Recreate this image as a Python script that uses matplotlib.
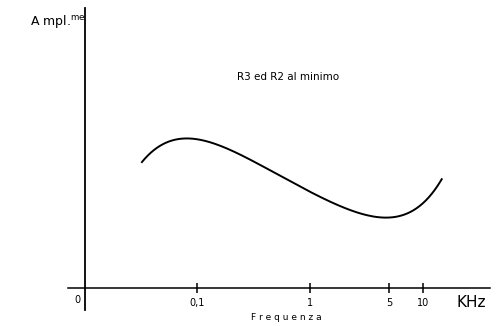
import matplotlib.pyplot as plt
import numpy as np

# frequency (kHz) and relative amplitude
freq = [0.0326, 0.0408, 0.0577, 0.0922, 0.139, 0.226, 0.361, 0.626,
        1.22, 2.40, 4.43, 6.65, 9.41, 14.7]
ampl = [45.0, 49.3, 51.8, 53.6, 52.1, 48.6, 43.2, 38.6,
        33.2, 27.9, 24.6, 25.4, 30.4, 38.6]

tick_pos = [0.1, 1, 5, 10]
tick_lab = ["0,1", "1", "5", "10"]
X0 = 0.0102  # where the "0" origin sits on the log axis


def main():
    fig = plt.figure(figsize=(5.01, 3.26), dpi=100)
    ax = fig.add_axes([0.1357, 0.049, 0.842, 0.926])

    # smooth the hand-read points in log space
    lx = np.log10(freq)
    xs = np.linspace(lx[0], lx[-1], 300)
    coef = np.polyfit(lx, ampl, 6)
    ax.plot(10 ** xs, np.polyval(coef, xs), color="black", lw=1.4)

    ax.set_xscale("log")
    ax.set_xlim(0.00722, 39.2)
    ax.set_ylim(-7.86, 100)

    for s in ["top", "right"]:
        ax.spines[s].set_visible(False)
    ax.spines["bottom"].set_position(("data", 0))
    ax.spines["left"].set_position(("data", X0))
    ax.spines["bottom"].set_linewidth(1.1)
    ax.spines["left"].set_linewidth(1.3)

    ax.set_yticks([])
    ax.set_xticks(tick_pos)
    ax.set_xticklabels(tick_lab)
    ax.xaxis.set_minor_locator(plt.NullLocator())
    ax.tick_params(axis="x", direction="inout", length=7, width=1.1,
                   labelsize=7, pad=4)

    ax.text(0.0088, -2.5, "0", fontsize=7, ha="center", va="top")
    ax.text(26.6, -2.4, "KHz", fontsize=11, ha="center", va="top")
    ax.text(0.62, -10.6, "F r e q u e n z a", fontsize=6.5, ha="center",
            va="center")
    ax.text(0.64, 75.5, "R3 ed R2 al minimo", fontsize=7.5, ha="center",
            va="center")
    fig.text(0.06, 0.935, r"A mpl.$^{\mathrm{me}}$", fontsize=9,
             ha="left", va="center")

    fig.savefig("out.png", dpi=100)


if __name__ == "__main__":
    main()
